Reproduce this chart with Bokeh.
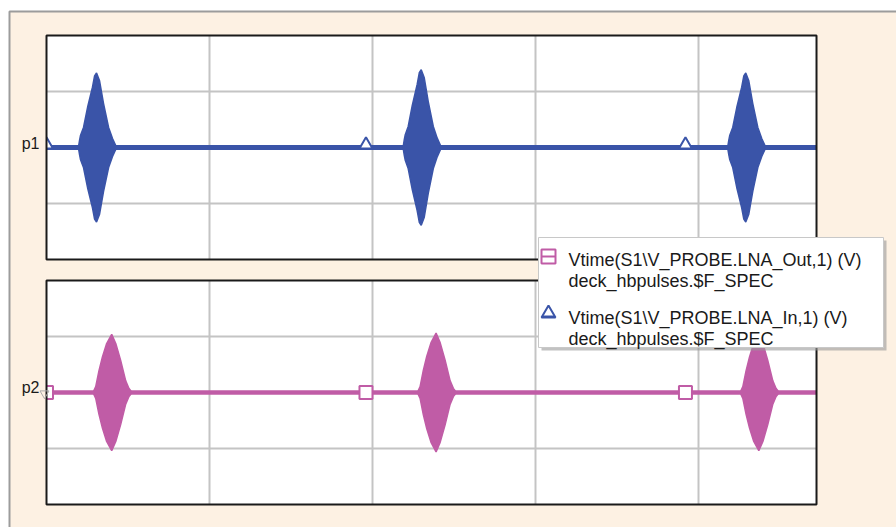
from bokeh.plotting import figure
from bokeh.models import Range1d
from bokeh.core.properties import value
from bokeh.embed import file_html
from bokeh.resources import INLINE

# ---------------- data (time in grid divisions, volts in grid divisions) ----------------
grid_x = [1, 2, 3, 4]
grid_y = [-1, 1]
x_end = 4.724
y_half = 2.0
panel_offsets = [4.375, 0.0]          # p1 (LNA_In) on top, p2 (LNA_Out) below
panel_labels = ["p1", "p2"]

in_pulse_centers = [0.307, 2.299, 4.29]
in_pulse_peaks = [1.33, 1.39, 1.33]
out_pulse_centers = [0.400, 2.39, 4.37]
out_pulse_peaks = [1.04, 1.06, 1.04]
# normalised burst envelopes (offset from burst centre, relative amplitude)
in_env_t = [-0.110, -0.104, -0.098, -0.080, -0.055, -0.025, -0.012, 0.0,
            0.018, 0.043, 0.074, 0.098, 0.117]
in_env_a = [0.02, 0.10, 0.165, 0.27, 0.54, 0.81, 0.96, 1.0,
            0.90, 0.59, 0.27, 0.12, 0.03]
out_env_t = [-0.110, -0.098, -0.078, -0.057, -0.031, 0.0,
             0.025, 0.055, 0.086, 0.106, 0.117]
out_env_a = [0.03, 0.10, 0.375, 0.61, 0.84, 1.0,
             0.84, 0.55, 0.20, 0.07, 0.03]
marker_x = [0.0, 1.96, 3.92]

legend_lines = ["Vtime(S1\\V_PROBE.LNA_Out,1) (V)", "deck_hbpulses.$F_SPEC",
                "Vtime(S1\\V_PROBE.LNA_In,1) (V)", "deck_hbpulses.$F_SPEC"]

# ---------------- styling / layout ----------------
BLUE = "#3a54a8"
PINK = "#c05ca6"
BEIGE = "#fdf1e3"
GRID = "#c4c4c4"
FONT = value("Liberation Sans")

W, H = 896, 527
PX, PY = 163.0, 56.0      # pixels per division
OX, OY = 46.0, 392.0      # canvas px of (t=0, p2 baseline)


def X(px):
    return (px - OX) / PX


def Y(py):
    return (OY - py) / PY


p = figure(width=W, height=H, output_backend="svg", toolbar_location=None,
           x_range=Range1d(X(0), X(W)), y_range=Range1d(Y(H), Y(0)),
           x_axis_location=None, y_axis_location=None, min_border=0,
           background_fill_color="white", border_fill_color="white")
p.grid.visible = False
p.outline_line_color = None

# outer beige box with grey top/left edge
p.quad(left=[X(9)], right=[X(W + 20)], top=[Y(11)], bottom=[Y(H + 20)],
       fill_color=BEIGE, line_color="#9c9c9c", line_width=2)

# panels
for off in panel_offsets:
    p.quad(left=[0], right=[x_end], top=[off + y_half], bottom=[off - y_half],
           fill_color="white", line_color=None)
    p.segment(x0=grid_x, y0=[off - y_half] * len(grid_x), x1=grid_x,
              y1=[off + y_half] * len(grid_x), line_color=GRID, line_width=2)
    p.segment(x0=[0] * len(grid_y), y0=[off + g for g in grid_y],
              x1=[x_end] * len(grid_y), y1=[off + g for g in grid_y],
              line_color=GRID, line_width=2)


def bursts(centers, peaks, et, ea, off):
    xs, ys = [], []
    for c, pk in zip(centers, peaks):
        xs.append([c + t for t in et] + [c + t for t in reversed(et)])
        ys.append([off + pk * a for a in ea] + [off - pk * a for a in reversed(ea)])
    return xs, ys


# p1: LNA_In (blue)
off = panel_offsets[0]
p.line([0, x_end], [off, off], line_color=BLUE, line_width=5)
xs, ys = bursts(in_pulse_centers, in_pulse_peaks, in_env_t, in_env_a, off)
p.patches(xs, ys, fill_color=BLUE, line_color=BLUE, line_width=1.5)
p.scatter(marker_x, [off + 0.05] * len(marker_x), marker="triangle", size=13,
          fill_color="white", line_color=BLUE, line_width=2)

# p2: LNA_Out (pink)
off = panel_offsets[1]
p.line([0, x_end], [off, off], line_color=PINK, line_width=4.5)
xs, ys = bursts(out_pulse_centers, out_pulse_peaks, out_env_t, out_env_a, off)
p.patches(xs, ys, fill_color=PINK, line_color=PINK, line_width=1.5)
p.scatter(marker_x, [off] * len(marker_x), marker="square", size=13,
          fill_color="white", line_color=PINK, line_width=2)

# beige strip left of panels (clips the half markers at t=0)
for o in panel_offsets:
    p.quad(left=[X(12)], right=[0], top=[o + y_half], bottom=[o - y_half],
           fill_color=BEIGE, line_color=None)

# panel borders
for o in panel_offsets:
    p.quad(left=[0], right=[x_end], top=[o + y_half], bottom=[o - y_half],
           fill_color=None, line_color="#1a1a1a", line_width=2)

# panel labels
p.text(x=[X(39), X(39)], y=[panel_offsets[0] + Y(OY - 4), panel_offsets[1] + Y(OY - 5)],
       text=panel_labels, text_font=FONT, text_font_size="16px",
       text_align="right", text_baseline="alphabetic", text_color="#1a1a1a")
p.scatter([X(44)], [panel_offsets[1] + Y(OY + 1)], marker="inverted_triangle", size=9,
          fill_color=None, line_color="#aaaaaa", line_width=1)

# legend box
p.quad(left=[X(541)], right=[X(886)], top=[Y(240)], bottom=[Y(350)],
       fill_color="#9a9a9a", fill_alpha=0.6, line_color=None)
p.quad(left=[X(538)], right=[X(883)], top=[Y(237)], bottom=[Y(347)],
       fill_color="white", line_color="#c8c8c8", line_width=1)
p.scatter([X(548)], [Y(256)], marker="square", size=14, fill_color=None,
          line_color=PINK, line_width=2)
p.scatter([X(548)], [Y(256)], marker="dash", size=14, line_color=PINK, line_width=2)
p.scatter([X(548)], [Y(313)], marker="triangle", size=14, fill_color=None,
          line_color=BLUE, line_width=2)
p.scatter([X(548)], [Y(316)], marker="dash", size=12, line_color=BLUE, line_width=2)
p.text(x=[X(568)] * 4, y=[Y(259), Y(280), Y(317), Y(338)], text=legend_lines,
       text_font=FONT, text_font_size="18px", text_align="left",
       text_baseline="alphabetic", text_color="#1a1a1a")

open("out.html", "w").write(file_html(p, INLINE))
